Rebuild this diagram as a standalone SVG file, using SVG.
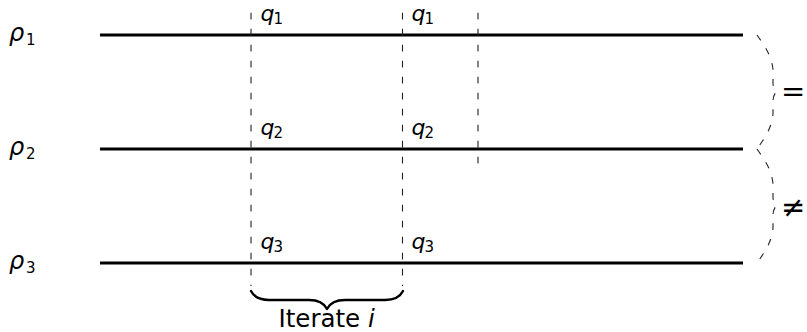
<svg xmlns="http://www.w3.org/2000/svg" width="807" height="332" viewBox="0 0 807 332">
<style>
.m{font-family:"DejaVu Sans",sans-serif;font-style:oblique;font-size:22px;fill:#000}
.r{font-family:"DejaVu Sans",sans-serif;font-style:oblique;font-size:24px;fill:#000}
.s{font-family:"DejaVu Sans",sans-serif;font-style:normal;font-size:15px;fill:#000}
.t{font-family:"DejaVu Sans",sans-serif;font-size:24.5px;fill:#000}
.op{font-family:"DejaVu Sans",sans-serif;font-size:29px;fill:#000}
.wire{stroke:#000;stroke-width:2.8;fill:none}
.dash{stroke:#222;stroke-width:1.1;stroke-dasharray:6.7 9.3;fill:none}
.brace{stroke:#000;stroke-width:2.4;fill:none;stroke-linecap:round;stroke-linejoin:round}
</style>
<g id="connectors">
<line class="wire" x1="100" y1="35" x2="743" y2="35"/>
<line class="wire" x1="100" y1="149" x2="743" y2="149"/>
<line class="wire" x1="100" y1="263" x2="743" y2="263"/>
<line class="dash" x1="251" y1="12.7" x2="251" y2="286"/>
<line class="dash" x1="402.5" y1="12.7" x2="402.5" y2="286"/>
<line class="dash" x1="478" y1="12.7" x2="478" y2="166"/>
<path class="dash" d="M757,35 C764,45 772,56 773,70 L773,84 C773.5,88 775,91 776.5,92 C775,93 773.5,96 773,100 L773,114 C772,128 764,139 757,149"/>
<path class="dash" d="M757,149 C764,159 772,170 773,184 L773,198 C773.5,202 775,205 776.5,206 C775,207 773.5,210 773,214 L773,228 C772,242 764,253 757,263"/>
<path class="brace" d="M251,291 C253.7,296.4 260,300 269,300 L309,300 C318,300 324.3,303.6 327,309 C329.7,303.6 336,300 345,300 L385,300 C394,300 400.3,296.4 403,291"/>
</g>
<g id="rho1"><text class="r" x="9" y="40.5">ρ</text><text class="s" x="26" y="44.5">1</text></g>
<g id="rho2"><text class="r" x="9" y="154.5">ρ</text><text class="s" x="26" y="158.5">2</text></g>
<g id="rho3"><text class="r" x="9" y="268.5">ρ</text><text class="s" x="26" y="272.5">3</text></g>
<g id="q1a"><text class="m" x="260.5" y="20.5">q</text><text class="s" x="273.5" y="24">1</text></g>
<g id="q1b"><text class="m" x="411.5" y="20.5">q</text><text class="s" x="424.5" y="24">1</text></g>
<g id="q2a"><text class="m" x="260.5" y="134.5">q</text><text class="s" x="273.5" y="138">2</text></g>
<g id="q2b"><text class="m" x="411.5" y="134.5">q</text><text class="s" x="424.5" y="138">2</text></g>
<g id="q3a"><text class="m" x="260.5" y="248.5">q</text><text class="s" x="273.5" y="252">3</text></g>
<g id="q3b"><text class="m" x="411.5" y="248.5">q</text><text class="s" x="424.5" y="252">3</text></g>
<g id="eq"><text class="op" x="781" y="100.5">=</text></g>
<g id="neq"><text class="op" x="781" y="217">≠</text></g>
<g id="label"><text class="t" x="278.5" y="327">Iterate <tspan font-style="oblique">i</tspan></text></g>
</svg>
